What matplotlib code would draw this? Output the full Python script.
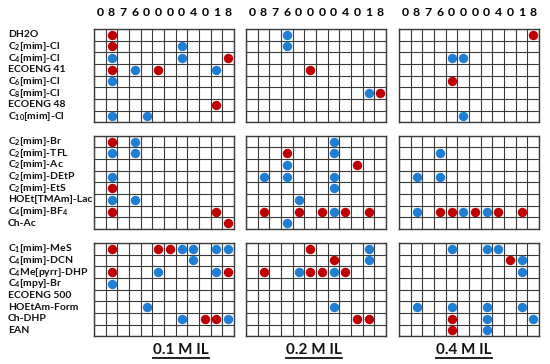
import matplotlib
matplotlib.use('Agg')
import matplotlib.pyplot as plt
from matplotlib.transforms import blended_transform_factory
from matplotlib.lines import Line2D
import numpy as np

plt.rcParams['font.family'] = ['Lato', 'DejaVu Sans']
plt.rcParams['mathtext.fontset'] = 'custom'
plt.rcParams['mathtext.rm'] = 'Lato:bold'
plt.rcParams['mathtext.bf'] = 'Lato:bold'
plt.rcParams['mathtext.default'] = 'bf'

# ---------------- data ----------------
col_labels = ['0', '8', '7', '6', '0', '0', '0', '0', '4', '0', '1', '8']

row_labels_1 = ["DH2O", "C$_2$[mim]-Cl", "C$_4$[mim]-Cl", "ECOENG 41",
                "C$_6$[mim]-Cl", "C$_8$[mim]-Cl", "ECOENG 48", "C$_{10}$[mim]-Cl"]
row_labels_2 = ["C$_2$[mim]-Br", "C$_2$[mim]-TFL", "C$_2$[mim]-Ac", "C$_2$[mim]-DEtP",
                "C$_2$[mim]-EtS", "HOEt[TMAm]-Lac", "C$_4$[mim]-BF$_4$", "Ch-Ac"]
row_labels_3 = ["C$_1$[mim]-MeS", "C$_4$[mim]-DCN", "C$_4$Me[pyrr]-DHP", "C$_4$[mpy]-Br",
                "ECOENG 500", "HOEtAm-Form", "Ch-DHP", "EAN"]

conc_labels = ['0.1 M IL', '0.2 M IL', '0.4 M IL']

# (row 0-23, column 0-11)
red_01 = [(0, 1), (1, 1), (2, 11), (3, 1), (3, 5), (6, 10),
          (8, 1), (12, 1), (14, 1), (14, 10), (15, 11),
          (16, 1), (16, 5), (16, 6), (18, 1), (18, 11), (22, 9), (22, 10)]
blue_01 = [(1, 7), (2, 1), (2, 7), (3, 3), (3, 10), (4, 1), (7, 1), (7, 4),
           (8, 3), (9, 1), (9, 3), (11, 1), (13, 1), (13, 3),
           (16, 7), (16, 8), (16, 10), (16, 11), (17, 8), (18, 5), (18, 10),
           (19, 1), (21, 4), (22, 7), (22, 11)]
red_02 = [(3, 5), (5, 11),
          (9, 3), (10, 9), (14, 1), (14, 4), (14, 6), (14, 8), (14, 10),
          (16, 5), (17, 7), (18, 1), (18, 5), (18, 6), (18, 8), (22, 9), (22, 10)]
blue_02 = [(0, 3), (1, 3), (5, 10),
           (8, 7), (9, 7), (10, 3), (11, 1), (11, 3), (11, 7), (12, 7), (13, 4),
           (14, 7), (15, 3),
           (16, 10), (17, 10), (18, 4), (18, 7), (21, 7)]
red_04 = [(0, 11), (4, 4),
          (14, 3), (14, 4), (14, 6), (14, 8), (14, 10),
          (17, 9), (22, 4), (23, 4)]
blue_04 = [(2, 4), (2, 5), (7, 5),
           (9, 3), (11, 1), (11, 3), (14, 1), (14, 5), (14, 7),
           (16, 4), (16, 7), (16, 8), (17, 10), (18, 10), (21, 1), (21, 4),
           (21, 7), (21, 10), (22, 7), (22, 11), (23, 7)]

red_sets = [red_01, red_02, red_04]
blue_sets = [blue_01, blue_02, blue_04]
row_label_sets = [row_labels_1, row_labels_2, row_labels_3]

RED = '#C00000'
BLUE = '#1F7FD4'
GRID = '#3a3a3a'

# ---------------- layout ----------------
W, H = 550, 364
fig = plt.figure(figsize=(W / 100, H / 100), dpi=100)
panel_x = [94, 246, 399]
panel_w = 140
panel_y = [29, 135.7, 243]
panel_h = 93.3
label_x = [181, 314, 464]

for gi in range(3):
    for ci in range(3):
        ax = fig.add_axes([panel_x[ci] / W, 1 - (panel_y[gi] + panel_h) / H,
                           panel_w / W, panel_h / H])
        ax.set_xlim(0, 12)
        ax.set_ylim(8, 0)
        ax.set_xticks(np.arange(13), minor=True)
        ax.set_yticks(np.arange(9), minor=True)
        ax.grid(which='minor', color=GRID, lw=0.8)
        ax.set_axisbelow(True)
        ax.tick_params(which='both', length=0)
        ax.set_yticks([])
        if gi == 0:
            ax.xaxis.tick_top()
            ax.set_xticks(np.arange(12) + 0.5)
            ax.set_xticklabels(col_labels, fontsize=8.8, fontweight='bold')
            ax.tick_params(axis='x', which='major', pad=8)
        else:
            ax.set_xticks([])
        for s in ax.spines.values():
            s.set_color(GRID)
            s.set_linewidth(1.0)

        reds = [(r - gi * 8, c) for r, c in red_sets[ci] if r // 8 == gi]
        blues = [(r - gi * 8, c) for r, c in blue_sets[ci] if r // 8 == gi]
        if reds:
            ax.scatter([c + 0.5 for r, c in reds], [r + 0.5 for r, c in reds],
                       s=46, color=RED, zorder=3, clip_on=False, linewidths=0)
        if blues:
            ax.scatter([c + 0.5 for r, c in blues], [r + 0.5 for r, c in blues],
                       s=46, color=BLUE, zorder=3, clip_on=False, linewidths=0)

        if ci == 0:
            tr = blended_transform_factory(fig.transFigure, ax.transData)
            for r, lab in enumerate(row_label_sets[gi]):
                ax.text(8 / W, r + 0.5, lab, transform=tr, ha='left', va='center',
                        fontsize=7.5, fontweight='bold', color='#111111')

texts = []
for x, lab in zip(label_x, conc_labels):
    t = fig.text(x / W, 1 - 349.5 / H, lab, ha='center', va='center',
                 fontsize=11, fontweight='bold', color='#111111')
    texts.append(t)

fig.canvas.draw()
rend = fig.canvas.get_renderer()
for t in texts:
    bb = t.get_window_extent(rend)
    x0, x1 = bb.x0 / W, bb.x1 / W
    y = 1 - 357.5 / H
    fig.add_artist(Line2D([x0, x1], [y, y], transform=fig.transFigure,
                          color='#111111', lw=1.3))

fig.savefig('out.png', dpi=100)
